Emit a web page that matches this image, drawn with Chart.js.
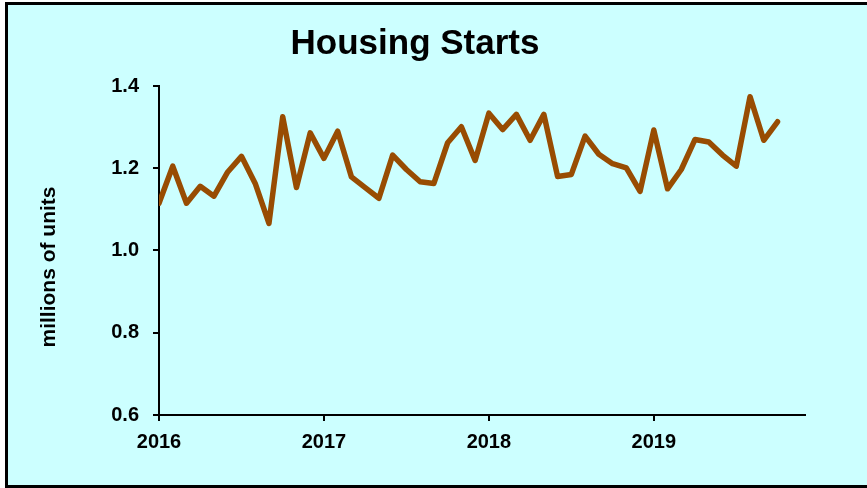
<!DOCTYPE html>
<html>
<head>
<meta charset="utf-8">
<script src="https://cdn.jsdelivr.net/npm/chart.js@4/dist/chart.umd.min.js"></script>
<style>
  html, body { margin: 0; padding: 0; background: #ffffff; width: 867px; height: 488px; overflow: hidden; }
  #frame { position: absolute; left: 5px; top: 2px; width: 880px; height: 480px; background: #CCFFFF; border: 3px solid #000; border-right: none; }
  #wrap { position: absolute; left: 0; top: 0; width: 867px; height: 488px; }
</style>
</head>
<body>
<div id="frame"></div>
<div id="wrap"><canvas id="c" width="867" height="488"></canvas></div>
<script>
// Monthly housing starts, Jan 2016 .. Oct 2019 (millions of units)
const years = [2016, 2017, 2018, 2019];
const starts2016 = [1.115, 1.205, 1.115, 1.156, 1.132, 1.191, 1.229, 1.163, 1.066, 1.325, 1.153, 1.286];
const starts2017 = [1.224, 1.290, 1.179, 1.153, 1.127, 1.232, 1.197, 1.167, 1.163, 1.262, 1.301, 1.219];
const starts2018 = [1.334, 1.294, 1.331, 1.268, 1.331, 1.180, 1.185, 1.278, 1.234, 1.211, 1.201, 1.144];
const starts2019 = [1.293, 1.150, 1.197, 1.270, 1.264, 1.232, 1.205, 1.374, 1.268, 1.313];
const yTicks = [0.6, 0.8, 1.0, 1.2, 1.4];
const xTickLabels = ['2016', '2017', '2018', '2019'];
const chartTitle = 'Housing Starts';
const yAxisTitle = 'millions of units';

const series = [starts2016, starts2017, starts2018, starts2019];
const points = [];
series.forEach((arr, yi) => arr.forEach((v, m) => points.push({ x: years[yi] + m / 12, y: v })));

const FONT = '"Liberation Sans", Arial, Helvetica, sans-serif';

// draws the y-axis title, rotated, left of the tick labels
const yTitlePlugin = {
  id: 'yTitle',
  afterDraw(chart) {
    const ctx = chart.ctx;
    ctx.save();
    ctx.translate(49, 267);
    ctx.rotate(-Math.PI / 2);
    ctx.font = 'bold 21px ' + FONT;
    ctx.fillStyle = '#000';
    ctx.textAlign = 'center';
    ctx.textBaseline = 'middle';
    ctx.fillText(yAxisTitle, 0, 0);
    ctx.restore();
  }
};

new Chart(document.getElementById('c'), {
  type: 'line',
  data: {
    datasets: [{
      data: points,
      borderColor: '#984C02',
      borderWidth: 5.5,
      pointRadius: 0,
      tension: 0,
      fill: false,
      borderJoinStyle: 'round',
      borderCapStyle: 'round'
    }]
  },
  plugins: [yTitlePlugin],
  options: {
    responsive: false,
    animation: false,
    layout: { padding: { left: 25, right: 62, top: 0, bottom: 0 } },
    plugins: {
      legend: { display: false },
      tooltip: { enabled: false },
      title: {
        display: true,
        text: chartTitle,
        color: '#000',
        font: { family: FONT, size: 35, weight: 'bold' },
        padding: { top: 23, bottom: 21 }
      }
    },
    scales: {
      x: {
        type: 'linear',
        min: 2016,
        max: 2016 + 47 / 12,
        afterBuildTicks: (s) => { s.ticks = years.map(v => ({ value: v })); },
        afterFit: (s) => { s.height = 73; },
        ticks: {
          color: '#000',
          font: { family: FONT, size: 20, weight: 'bold' },
          padding: 9,
          maxRotation: 0,
          autoSkip: false,
          callback: (v) => xTickLabels[years.indexOf(v)]
        },
        grid: { display: true, drawOnChartArea: false, drawTicks: true, tickLength: 6, color: '#000', lineWidth: 2 },
        border: { display: true, color: '#000', width: 2 }
      },
      y: {
        min: 0.6,
        max: 1.4,
        afterBuildTicks: (s) => { s.ticks = yTicks.map(v => ({ value: v })); },
        afterFit: (s) => { s.width = 134; },
        ticks: {
          color: '#000',
          font: { family: FONT, size: 20, weight: 'bold' },
          padding: 14,
          callback: (v) => v.toFixed(1)
        },
        grid: { display: true, drawOnChartArea: false, drawTicks: true, tickLength: 6, color: '#000', lineWidth: 2 },
        border: { display: true, color: '#000', width: 2 }
      }
    }
  }
});
</script>
</body>
</html>
